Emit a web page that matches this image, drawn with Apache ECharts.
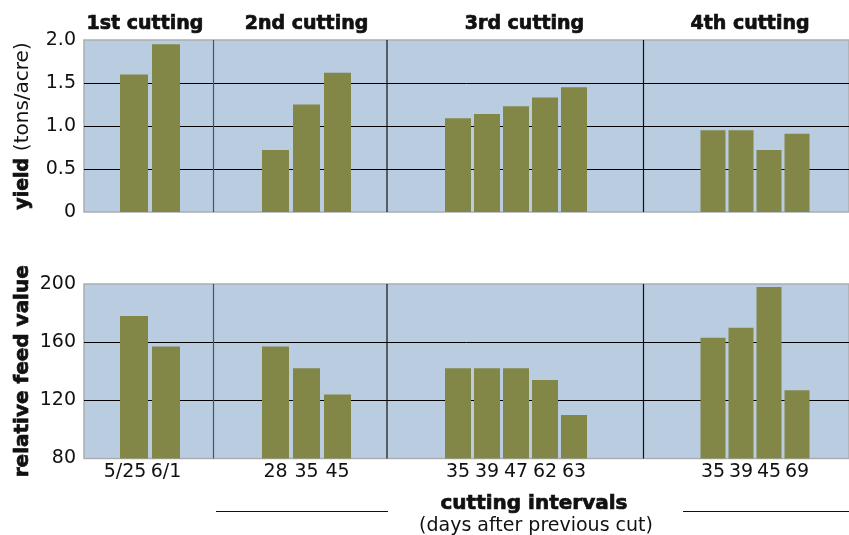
<!DOCTYPE html>
<html>
<head>
<meta charset="utf-8">
<title>Alfalfa yield and relative feed value by cutting</title>
<script src="https://cdn.jsdelivr.net/npm/echarts@6/dist/echarts.min.js"></script>
<style>
  html, body { margin: 0; padding: 0; background: #ffffff; }
  #chart { width: 849px; height: 535px; }
</style>
</head>
<body>
<div id="chart"></div>
<script>
// Cutting groups and the interval (days after previous cut) for each bar
const cuttings = ['1st cutting', '2nd cutting', '3rd cutting', '4th cutting'];
const intervals1 = ['5/25', '6/1'];
const intervals2 = ['28', '35', '45'];
const intervals3 = ['35', '39', '47', '62', '63'];
const intervals4 = ['35', '39', '45', '69'];

// Yield, tons/acre
const yield1 = [1.60, 1.95];
const yield2 = [0.72, 1.25, 1.62];
const yield3 = [1.09, 1.14, 1.23, 1.33, 1.45];
const yield4 = [0.95, 0.95, 0.72, 0.91];

// Relative feed value
const rfv1 = [178, 157];
const rfv2 = [157, 142, 124];
const rfv3 = [142, 142, 142, 134, 110];
const rfv4 = [163, 170, 198, 127];

// Axis ticks
const yieldTicks = { min: 0, max: 2, interval: 0.5 };
const rfvTicks = { min: 80, max: 200, interval: 40 };

const intervalsByCut = [intervals1, intervals2, intervals3, intervals4];
const yieldByCut = [yield1, yield2, yield3, yield4];
const rfvByCut = [rfv1, rfv2, rfv3, rfv4];

// Layout
const PLOT_LEFT = 84;
const PLOT_WIDTH = 770;
const ROWS = [
  { top: 40, height: 172, nameGap: 51 },
  { top: 284, height: 174.5, nameGap: 51 }
];
// horizontal span of each group's bars: [left, width, barWidth]
const GROUP_SPANS = [
  [118, 64, 28],
  [260, 93, 27],
  [443.5, 145, 26],
  [699, 112, 25]
];
const SEPARATORS = [213.5, 387, 643.5];
const HEADER_X = [145, 306.5, 524.5, 750];

const FONT = 'DejaVu Sans';
const BG = '#bacde0';
const BORDER = '#a9aeb3';
const BAR = '#828647';
const INK = '#111111';
const HEAVY = 0.7; // extra stroke that thickens the bold captions
const LABEL_SIZE = 19;

const grids = [];
const xAxes = [];
const yAxes = [];
const series = [];

// Background panels (one per row) carry the value axis, gridlines and shading
ROWS.forEach((row, r) => {
  grids.push({
    left: PLOT_LEFT, width: PLOT_WIDTH, top: row.top, height: row.height,
    show: true, backgroundColor: BG, borderColor: BORDER, borderWidth: 1.5,
    containLabel: false
  });
  const ticks = r === 0 ? yieldTicks : rfvTicks;
  xAxes.push({ gridIndex: grids.length - 1, type: 'value', show: false, min: 0, max: 1 });
  yAxes.push({
    gridIndex: grids.length - 1,
    type: 'value',
    min: ticks.min, max: ticks.max, interval: ticks.interval,
    axisLine: { show: false },
    axisTick: { show: false },
    splitLine: { show: true, showMinLine: false, showMaxLine: false,
                 lineStyle: { color: '#000000', width: 1 } },
    axisLabel: {
      margin: 8, color: INK, fontFamily: FONT, fontSize: LABEL_SIZE,
      formatter: r === 0 ? (v => (v === 0 ? '0' : v.toFixed(1))) : (v => String(v))
    },
    name: r === 0 ? '{b|yield}  {n|(tons/acre)}' : '{b|relative feed value}',
    nameLocation: 'middle',
    nameRotate: 90,
    nameGap: row.nameGap,
    nameMoveOverlap: false,
    nameTextStyle: {
      color: INK,
      rich: {
        b: { fontFamily: FONT, fontWeight: 'bold', fontSize: r === 0 ? 19 : 20, color: INK,
             textBorderColor: INK, textBorderWidth: HEAVY },
        n: { fontFamily: FONT, fontSize: 20, color: INK }
      }
    }
  });
});

// Interval labels; the first date label sits a little to the left of its bar
function categoryItems(labels, g) {
  return labels.map((v, i) =>
    (g === 0 && i === 0) ? { value: v, textStyle: { padding: [0, 18, 0, 0] } } : v);
}

// Bar panels, one per cutting per row
ROWS.forEach((row, r) => {
  GROUP_SPANS.forEach((span, g) => {
    const gi = grids.length;
    grids.push({ left: span[0], width: span[1], top: row.top, height: row.height, containLabel: false });
    const ticks = r === 0 ? yieldTicks : rfvTicks;
    xAxes.push({
      gridIndex: gi, type: 'category', data: categoryItems(intervalsByCut[g], g),
      boundaryGap: true,
      axisLine: { show: false }, axisTick: { show: false },
      splitLine: { show: false },
      axisLabel: {
        show: r === 1, margin: 4, interval: 0,
        color: INK, fontFamily: FONT, fontSize: LABEL_SIZE
      }
    });
    yAxes.push({
      gridIndex: gi, type: 'value', show: false,
      min: ticks.min, max: ticks.max, interval: ticks.interval,
      splitLine: { show: false }
    });
    series.push({
      type: 'bar',
      name: (r === 0 ? 'yield ' : 'relative feed value ') + cuttings[g],
      xAxisIndex: gi, yAxisIndex: gi,
      data: (r === 0 ? yieldByCut : rfvByCut)[g],
      barWidth: span[2],
      itemStyle: { color: BAR },
      z: 3,
      silent: true
    });
  });
});

// Vertical separators between cuttings, headers and the interval caption
const graphics = [];
ROWS.forEach(row => {
  SEPARATORS.forEach((x, i) => {
    graphics.push({
      type: 'line', z: 10,
      shape: { x1: x, y1: row.top, x2: x, y2: row.top + row.height },
      style: { stroke: i === 0 ? '#4a525a' : '#111111', lineWidth: 1.2 }
    });
  });
});
cuttings.forEach((c, i) => {
  graphics.push({
    type: 'text', x: HEADER_X[i], y: 24, z: 10,
    style: { text: c, fill: INK, font: 'bold 19px "' + FONT + '"',
             stroke: INK, lineWidth: HEAVY,
             textAlign: 'center', textVerticalAlign: 'middle' }
  });
});
graphics.push({
  type: 'text', x: 534, y: 504, z: 10,
  style: { text: 'cutting intervals', fill: INK, font: 'bold 20px "' + FONT + '"',
           stroke: INK, lineWidth: HEAVY,
           textAlign: 'center', textVerticalAlign: 'middle' }
});
graphics.push({
  type: 'text', x: 536, y: 526, z: 10,
  style: { text: '(days after previous cut)', fill: INK, font: '19px "' + FONT + '"',
           textAlign: 'center', textVerticalAlign: 'middle' }
});
graphics.push({
  type: 'line', z: 10, shape: { x1: 216, y1: 511.5, x2: 388, y2: 511.5 },
  style: { stroke: '#111111', lineWidth: 1 }
});
graphics.push({
  type: 'line', z: 10, shape: { x1: 683, y1: 511.5, x2: 849, y2: 511.5 },
  style: { stroke: '#111111', lineWidth: 1 }
});

const chart = echarts.init(document.getElementById('chart'), null, { renderer: 'canvas' });
chart.setOption({
  animation: false,
  backgroundColor: '#ffffff',
  grid: grids,
  xAxis: xAxes,
  yAxis: yAxes,
  series: series,
  graphic: graphics
});
</script>
</body>
</html>
